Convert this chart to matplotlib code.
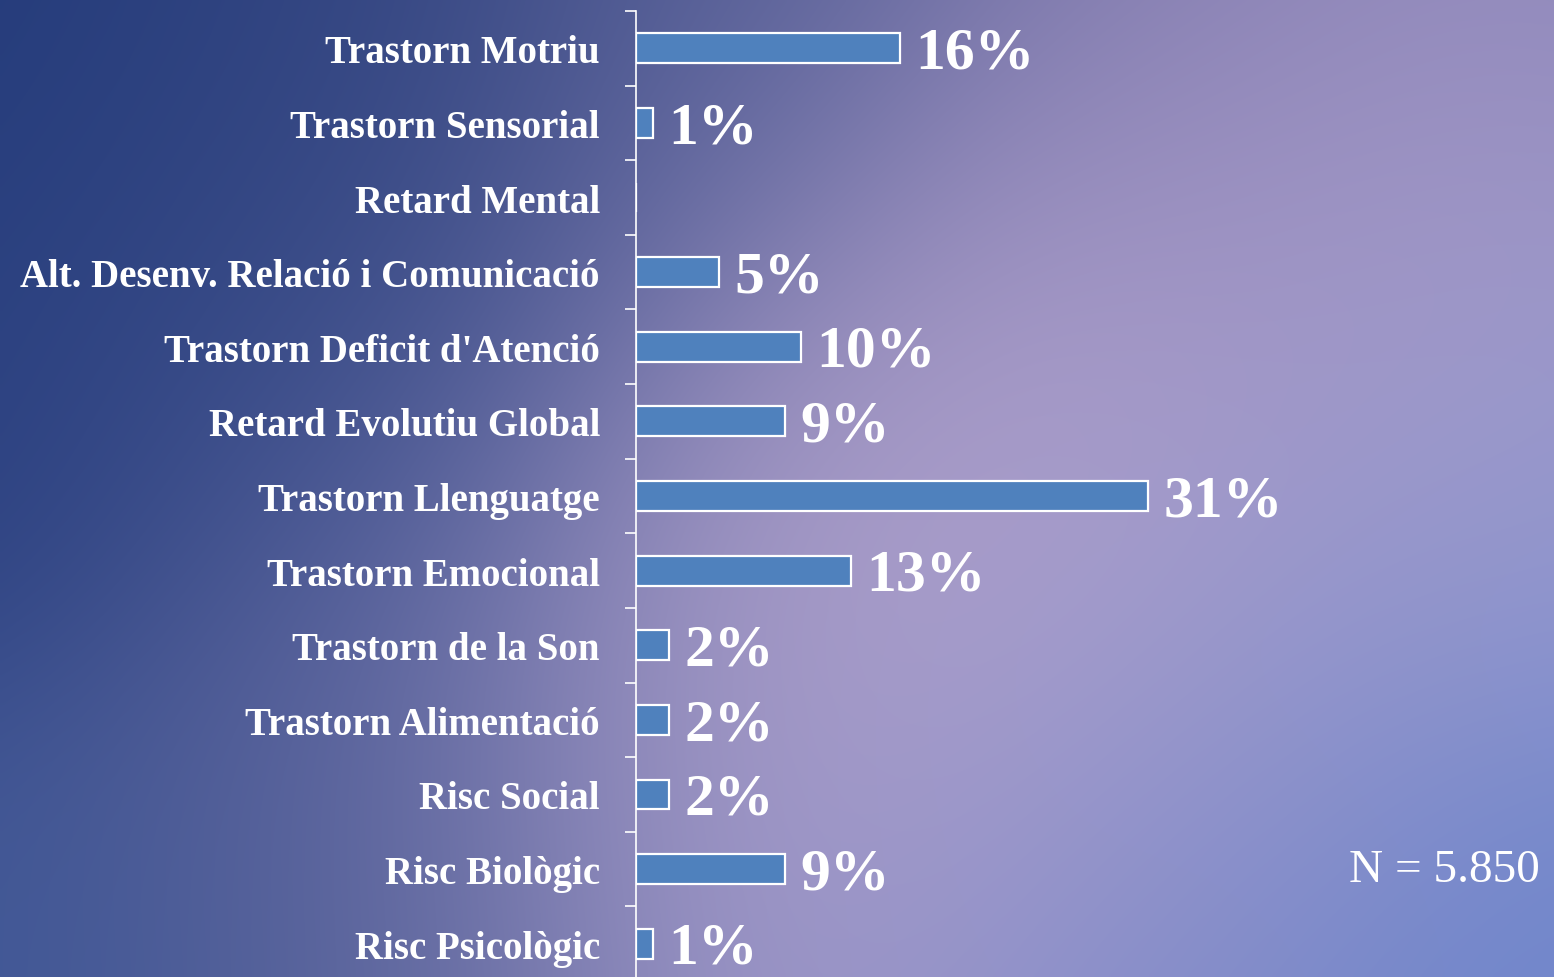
import numpy as np
import matplotlib.pyplot as plt

# Dades del gràfic
categories = [
    "Trastorn Motriu",
    "Trastorn Sensorial",
    "Retard Mental",
    "Alt. Desenv. Relació i Comunicació",
    "Trastorn Deficit d'Atenció",
    "Retard Evolutiu Global",
    "Trastorn Llenguatge",
    "Trastorn Emocional",
    "Trastorn de la Son",
    "Trastorn Alimentació",
    "Risc Social",
    "Risc Biològic",
    "Risc Psicològic",
]
percentatges = [16, 1, 0, 5, 10, 9, 31, 13, 2, 2, 2, 9, 1]
total_n = "N = 5.850"

W, H = 1554, 978
fig = plt.figure(figsize=(W / 100, H / 100), dpi=100)

# fons degradat (punts de color aproximats de la diapositiva)
punts = [
    (0, 0, (34, 58, 122)), (350, 0, (50, 68, 128)), (750, 0, (85, 95, 150)),
    (1150, 0, (118, 114, 166)), (1554, 0, (138, 132, 184)),
    (1300, 150, (158, 146, 194)),
    (1450, 250, (174, 162, 206)), (1100, 300, (166, 153, 200)),
    (1000, 420, (178, 161, 203)),
    (700, 250, (98, 103, 158)), (300, 250, (50, 70, 130)),
    (0, 400, (42, 64, 128)), (400, 460, (72, 88, 148)),
    (860, 520, (184, 166, 206)), (1554, 480, (140, 148, 205)),
    (650, 660, (150, 142, 190)), (900, 660, (176, 162, 204)),
    (1200, 650, (142, 148, 204)), (800, 780, (170, 158, 202)),
    (1000, 860, (145, 145, 202)),
    (400, 760, (80, 92, 150)), (0, 978, (63, 87, 150)),
    (400, 978, (90, 100, 155)), (760, 978, (160, 152, 200)),
    (1150, 978, (120, 135, 200)), (1554, 978, (111, 134, 204)),
]
gx, gy = np.meshgrid(np.linspace(0, W, W // 4), np.linspace(0, H, H // 4))
num = np.zeros(gx.shape + (3,))
den = np.zeros(gx.shape)
for px, py, c in punts:
    w = np.exp(-((gx - px) ** 2 + (gy - py) ** 2) / (2 * 200.0 ** 2))
    num += w[..., None] * np.array(c) / 255
    den += w
img = np.clip(num / den[..., None], 0, 1)

bg = fig.add_axes([0, 0, 1, 1], zorder=0)
bg.imshow(img, aspect="auto", interpolation="bilinear", extent=(0, 1, 0, 1))
bg.axis("off")

ax = fig.add_axes([636 / W, -4 / H, 907.5 / W, 970 / H], zorder=1)
ax.patch.set_alpha(0)
y = np.arange(len(categories))
ax.barh(y, percentatges, height=0.4, color="#4f81bd", edgecolor="white", linewidth=1.6)
for yi, v in zip(y, percentatges):
    if v > 0:
        ax.text(v + 0.95, yi + 0.07, f"{v}%", va="center", ha="left", color="white",
                fontsize=43, fontweight="bold", family="Liberation Serif")

ax.set_xlim(0, 55)
ax.set_ylim(len(categories) - 0.5, -0.5)
ax.set_yticks(y)
ax.set_yticklabels(categories, fontsize=28, fontweight="bold", family="Liberation Serif", color="white")
ax.set_yticks(np.arange(len(categories) + 1) - 0.5, minor=True)
ax.tick_params(axis="y", which="major", length=0, pad=26)
ax.tick_params(axis="y", which="minor", length=8, width=1.2, color="white")
ax.set_xticks([])
for s in ["top", "right", "bottom"]:
    ax.spines[s].set_visible(False)
ax.spines["left"].set_color("white")
ax.spines["left"].set_linewidth(1.2)

fig.text(1540 / W, (H - 882) / H, total_n, ha="right", va="baseline", color="white",
         fontsize=34, family="Liberation Serif")

fig.savefig("out.png", dpi=100)
